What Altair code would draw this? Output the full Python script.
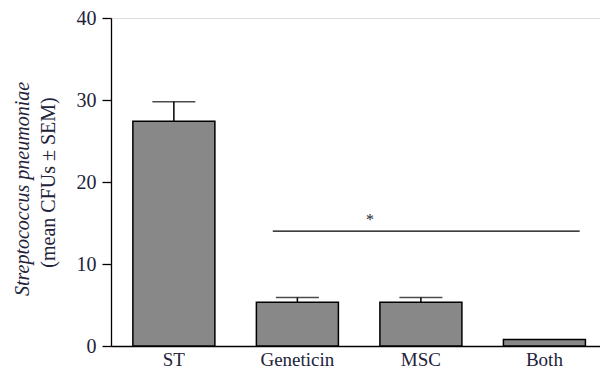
import altair as alt
import pandas as pd

categories = ["ST", "Geneticin", "MSC", "Both"]
means = [27.4, 5.35, 5.35, 0.8]
sems = [2.4, 0.55, 0.55, 0.0]

sig_start = "Geneticin"
sig_end = "Both"
sig_level = 14.0
star_cat = "MSC"
star_level = 14.7

df = pd.DataFrame({"cat": categories, "mean": means, "sem": sems})
df["upper"] = df["mean"] + df["sem"]
err_df = df[df["sem"] > 0]

FONT = "Liberation Serif"
TXT = "#22223a"

xscale = alt.Scale(domain=categories, paddingInner=0.336, paddingOuter=0.1475, align=0.6)
yscale = alt.Scale(domain=[0, 40], nice=False)

x_enc = alt.X("cat:N", scale=xscale, sort=categories,
              axis=alt.Axis(title=None, labelAngle=0, ticks=False, labelPadding=4,
                            labelFontSize=19, labelFont=FONT, labelColor=TXT,
                            domainColor="black", domainWidth=1.3))
y_enc = alt.Y("mean:Q", scale=yscale,
              axis=alt.Axis(values=[0, 10, 20, 30, 40], tickSize=9, tickWidth=1.3,
                            tickColor="black", domainColor="black", domainWidth=1.3,
                            labelFontSize=20, labelFont=FONT, labelColor=TXT, labelPadding=6,
                            grid=False, title="(mean CFUs ± SEM)", titleFont=FONT,
                            titleFontSize=20, titleFontWeight="normal", titleColor=TXT,
                            titleAngle=270, titleX=-63, titleY=164, titleBaseline="middle",
                            titleAlign="center"))

base = alt.Chart(df)
bars = base.mark_bar(fill="#888888", stroke="black", strokeWidth=1.5).encode(x=x_enc, y=y_enc)

err_rule = alt.Chart(err_df).mark_rule(color="black", strokeWidth=1.5).encode(
    x=alt.X("cat:N", scale=xscale, sort=categories),
    y=alt.Y("mean:Q", scale=yscale),
    y2="upper:Q",
)
err_cap = alt.Chart(err_df).mark_tick(color="black", thickness=1.5, size=43).encode(
    x=alt.X("cat:N", scale=xscale, sort=categories),
    y=alt.Y("upper:Q", scale=yscale),
)

sig_df = pd.DataFrame({"start": [sig_start], "end": [sig_end], "level": [sig_level]})
sig_line = alt.Chart(sig_df).mark_rule(color="black", strokeWidth=1.3).encode(
    x=alt.X("start:N", scale=xscale, sort=categories, bandPosition=0.2),
    x2=alt.X2("end", bandPosition=0.93),
    y=alt.Y("level:Q", scale=yscale),
)

star_df = pd.DataFrame({"cat": [star_cat], "level": [star_level], "t": ["*"]})
star = alt.Chart(star_df).mark_text(font=FONT, fontSize=16, color=TXT, dx=-10,
                                    baseline="alphabetic").encode(
    x=alt.X("cat:N", scale=xscale, sort=categories, bandPosition=0),
    y=alt.Y("level:Q", scale=yscale),
    text="t:N",
)

title_df = pd.DataFrame({"t": ["Streptococcus pneumoniae"]})
title_line = alt.Chart(title_df).mark_text(font=FONT, fontSize=20, fontStyle="italic",
                                           color=TXT, angle=270, baseline="middle",
                                           align="center").encode(
    x=alt.value(-88), y=alt.value(171), text="t:N"
)

chart = alt.layer(bars, err_rule, err_cap, sig_line, star, title_line).properties(
    width=489, height=328,
    autosize=alt.AutoSizeParams(type="none"),
    padding={"left": 103, "top": 10, "right": 0, "bottom": 23},
).configure_view(stroke=None).configure(background="white")

chart.save("out.html", embed_options={"renderer": "svg", "actions": False})
